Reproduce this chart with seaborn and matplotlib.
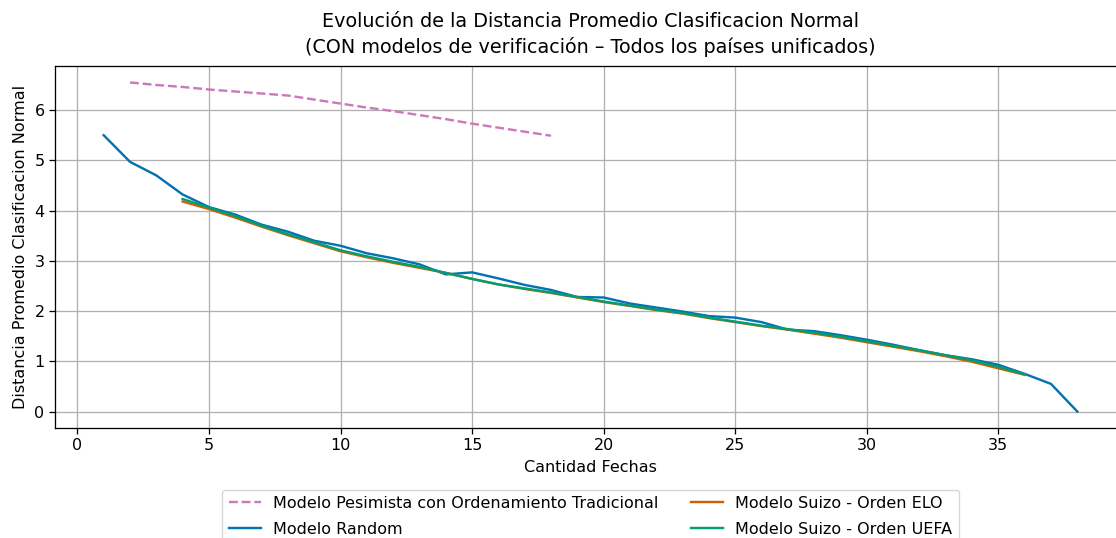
import numpy as np
import pandas as pd
import matplotlib
matplotlib.use("Agg")
import matplotlib.pyplot as plt
import seaborn as sns

# Average distance per number of matchdays, for each model
fechas_pesimista = list(range(2, 19))
dist_pesimista = [6.55, 6.50, 6.46, 6.41, 6.37, 6.33, 6.29, 6.21, 6.13, 6.05,
                  5.98, 5.90, 5.82, 5.73, 5.65, 5.57, 5.49]

fechas_random = list(range(1, 39))
dist_random = [5.50, 4.97, 4.70, 4.32, 4.07, 3.92, 3.72, 3.58, 3.40, 3.30,
               3.15, 3.05, 2.93, 2.73, 2.77, 2.65, 2.52, 2.42, 2.28, 2.27,
               2.15, 2.07, 1.99, 1.90, 1.87, 1.78, 1.63, 1.60, 1.52, 1.43,
               1.33, 1.22, 1.12, 1.04, 0.93, 0.75, 0.55, 0.00]

fechas_suizo = list(range(4, 37))
dist_elo = [4.18, 4.03, 3.86, 3.68, 3.51, 3.35, 3.19, 3.07, 2.96, 2.86,
            2.76, 2.64, 2.53, 2.44, 2.36, 2.27, 2.18, 2.10, 2.02, 1.95,
            1.86, 1.78, 1.70, 1.63, 1.55, 1.47, 1.38, 1.29, 1.20, 1.10,
            0.99, 0.86, 0.73]
dist_uefa = [4.23, 4.06, 3.89, 3.70, 3.53, 3.37, 3.21, 3.09, 2.98, 2.88,
             2.76, 2.64, 2.53, 2.45, 2.37, 2.28, 2.19, 2.11, 2.03, 1.96,
             1.87, 1.79, 1.71, 1.64, 1.57, 1.49, 1.40, 1.31, 1.22, 1.12,
             1.02, 0.89, 0.74]

modelos = ["Modelo Pesimista con Ordenamiento Tradicional", "Modelo Random",
           "Modelo Suizo - Orden ELO", "Modelo Suizo - Orden UEFA"]

df = pd.concat([
    pd.DataFrame({"Fechas": fechas_pesimista, "Distancia": dist_pesimista, "Modelo": modelos[0]}),
    pd.DataFrame({"Fechas": fechas_random, "Distancia": dist_random, "Modelo": modelos[1]}),
    pd.DataFrame({"Fechas": fechas_suizo, "Distancia": dist_elo, "Modelo": modelos[2]}),
    pd.DataFrame({"Fechas": fechas_suizo, "Distancia": dist_uefa, "Modelo": modelos[3]}),
], ignore_index=True)

cb = sns.color_palette("colorblind")
paleta = {modelos[0]: cb[4], modelos[1]: cb[0], modelos[2]: cb[3], modelos[3]: cb[2]}
estilos = {modelos[0]: (3.7, 1.6), modelos[1]: "", modelos[2]: "", modelos[3]: ""}

# Everything drawn ~15% larger than matplotlib defaults
k = 1.15
plt.rcParams.update({
    "font.family": ["DejaVu Sans"],
    "font.size": 10 * k,
    "axes.titlesize": 12 * k,
    "axes.linewidth": 0.8 * k,
    "xtick.major.size": 3.5 * k,
    "ytick.major.size": 3.5 * k,
    "xtick.major.width": 0.8 * k,
    "ytick.major.width": 0.8 * k,
    "axes.labelpad": 4 * k,
})

fig = plt.figure(figsize=(11.16, 5.38), dpi=100)
ax = fig.add_axes([55 / 1116, 110 / 538, 1071 / 1116, 362 / 538])

sns.lineplot(data=df, x="Fechas", y="Distancia", hue="Modelo", style="Modelo",
             hue_order=modelos, style_order=modelos, palette=paleta,
             dashes=estilos, linewidth=1.5 * k, ax=ax)

ax.set_xlim(-0.85, 39.85)
ax.spines["right"].set_visible(False)
ax.grid(True, color="#b0b0b0", linewidth=0.8 * k)
ax.set_xlabel("Cantidad Fechas")
ax.set_ylabel("Distancia Promedio Clasificacion Normal")
ax.set_title("Evolución de la Distancia Promedio Clasificacion Normal\n"
             "(CON modelos de verificación – Todos los países unificados)",
             pad=9.5, linespacing=1.35)
ax.legend(loc="upper center", bbox_to_anchor=(0.5, -0.148), ncol=2, title=None,
          labelspacing=0.68)

fig.savefig("out.png", dpi=100)
